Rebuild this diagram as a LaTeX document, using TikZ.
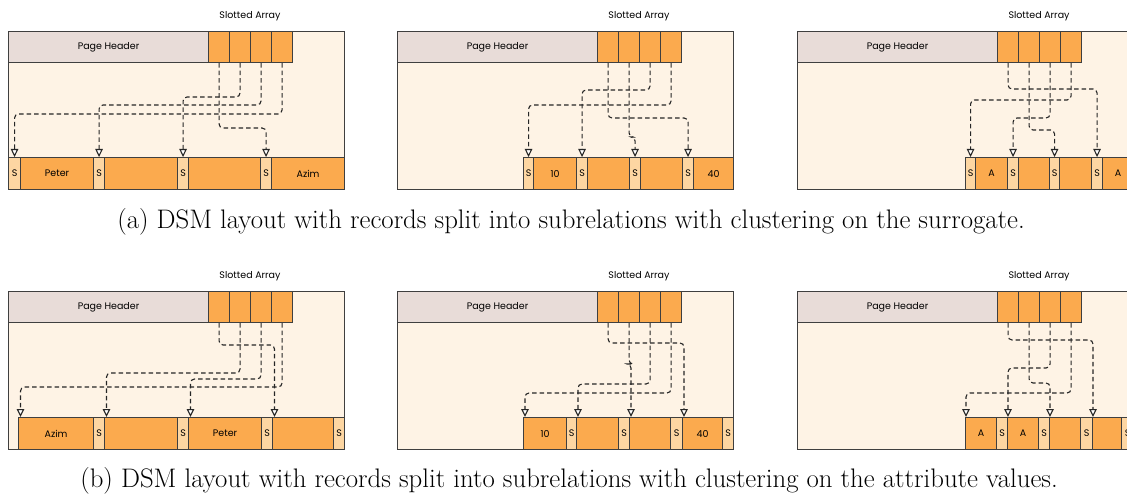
\documentclass[tikz,border=0pt]{standalone}
\usepackage{fontspec}
\newfontfamily\labelfont{Poppins}
\usetikzlibrary{arrows.meta,calc}
\definecolor{pageCream}{HTML}{FEF3E5}
\definecolor{headerGray}{HTML}{E8DCD8}
\definecolor{cellOrange}{HTML}{FBAA4E}
\definecolor{keyPeach}{HTML}{FDD6A2}
\definecolor{edgeGray}{HTML}{3F3F3F}

\tikzset{
  box/.style={draw=edgeGray, line width=1.1pt, anchor=north west, inner sep=0pt,
    font=\labelfont\fontsize{9.5}{11}\selectfont},
  page/.style={box, fill=pageCream, minimum width=336pt, minimum height=158pt},
  header/.style={box, fill=headerGray, minimum width=200pt, minimum height=31pt},
  slot/.style={box, fill=cellOrange, minimum width=21pt, minimum height=31pt},
  keycell/.style={box, fill=keyPeach, minimum height=32pt},
  valcell/.style={box, fill=cellOrange, minimum height=32pt},
  ptr/.style={draw=black!85, line width=1.1pt, dash pattern=on 4.5pt off 3pt,
    rounded corners=4pt, -{Triangle[length=8pt, width=7.5pt, fill=white]}},
  caption/.style={font=\fontsize{26.8}{30}\selectfont}
}

\begin{document}
\begin{tikzpicture}[x=1pt, y=-1pt]
  \useasboundingbox (0,0) rectangle (1127,494);
  \fill[white] (0,0) rectangle (1127,494);
  \clip (0,0) rectangle (1127,494);

  % page frame, header and slotted array of every page
  \foreach \p/\dx/\dy in {a1/0/0, a2/389/0, a3/789/0, b1/0/260, b2/389/260, b3/789/260} {
    \begin{scope}[shift={(\dx,\dy)}]
      \node[page] (\p-page) at (8,31) {};
      \node[header] (\p-hdr) at (8,31) {Page Header};
      \foreach \i in {1,...,4}
        \node[slot] (\p-s\i) at ({208+21*(\i-1)},31) {};
      \node[font=\labelfont\fontsize{9.5}{11}\selectfont] (\p-lbl) at (250,16) {Slotted Array};
    \end{scope}
  }

  % (a) clustered on the surrogate: key cell in front of each value
  \foreach \i/\xs/\xd/\xe/\txt in {1/8/20/93/Peter, 2/93/104/177/{}, 3/177/188/260/{}, 4/260/271/344/Azim} {
    \node[keycell, minimum width={\xd-\xs}] (a1-k\i) at (\xs,157) {S};
    \node[valcell, minimum width={\xe-\xd}] (a1-v\i) at (\xd,157) {\txt};
  }
  \foreach \s/\k/\y in {1/4/128, 2/3/97, 3/2/105, 4/1/114}
    \draw[ptr] (a1-s\s.south) -- (a1-s\s.south |- 0,\y) -- (a1-k\k.north |- 0,\y) -- (a1-k\k.north);

  \begin{scope}[shift={(389,0)}]
    \foreach \i/\xs/\xd/\xe/\txt in {1/134/144/187/10, 2/187/198/240/{}, 3/240/251/293/{}, 4/293/304/344/40} {
      \node[keycell, minimum width={\xd-\xs}] (a2-k\i) at (\xs,157) {S};
      \node[valcell, minimum width={\xe-\xd}] (a2-v\i) at (\xd,157) {\txt};
    }
    \foreach \s/\k/\y in {1/4/118, 2/3/137, 3/2/90, 4/1/105}
      \draw[ptr] (a2-s\s.south) -- (a2-s\s.south |- 0,\y) -- (a2-k\k.north |- 0,\y) -- (a2-k\k.north);
  \end{scope}

  \begin{scope}[shift={(789,0)}]
    \foreach \i/\xs/\xd/\xe/\txt in {1/176/186/218/A, 2/218/229/260/{}, 3/260/270/302/{}, 4/302/313/344/A} {
      \node[keycell, minimum width={\xd-\xs}] (a3-k\i) at (\xs,157) {S};
      \node[valcell, minimum width={\xe-\xd}] (a3-v\i) at (\xd,157) {\txt};
    }
    \foreach \s/\k/\y in {1/4/89, 2/3/130, 3/2/118, 4/1/100}
      \draw[ptr] (a3-s\s.south) -- (a3-s\s.south |- 0,\y) -- (a3-k\k.north |- 0,\y) -- (a3-k\k.north);
  \end{scope}

  % (b) clustered on the values: key cell after each value
  \begin{scope}[shift={(0,260)}]
    \foreach \i/\xd/\xs/\xe/\txt in {1/18/93/104/Azim, 2/104/177/188/{}, 3/188/261/272/Peter, 4/272/333/344/{}} {
      \node[valcell, minimum width={\xs-\xd}] (b1-v\i) at (\xd,157) {\txt};
      \node[keycell, minimum width={\xe-\xs}] (b1-k\i) at (\xs,157) {S};
      \coordinate (b1-t\i) at ([xshift=2.5pt]b1-v\i.north west);
    }
    \foreach \s/\k/\y in {1/4/85, 2/2/113, 3/3/119, 4/1/127}
      \draw[ptr] (b1-s\s.south) -- (b1-s\s.south |- 0,\y) -- (b1-t\k |- 0,\y) -- (b1-t\k);
  \end{scope}

  \begin{scope}[shift={(389,260)}]
    \foreach \i/\xd/\xs/\xe/\txt in {1/134/177/187/10, 2/187/229/240/{}, 3/240/281/293/{}, 4/293/333/344/40} {
      \node[valcell, minimum width={\xs-\xd}] (b2-v\i) at (\xd,157) {\txt};
      \node[keycell, minimum width={\xe-\xs}] (b2-k\i) at (\xs,157) {S};
      \coordinate (b2-t\i) at ([xshift=2pt]b2-v\i.north west);
    }
    \foreach \s/\k/\y in {1/4/83, 2/3/104, 3/2/124, 4/1/133}
      \draw[ptr] (b2-s\s.south) -- (b2-s\s.south |- 0,\y) -- (b2-t\k |- 0,\y) -- (b2-t\k);
  \end{scope}

  \begin{scope}[shift={(789,260)}]
    \foreach \i/\xd/\xs/\xe/\txt in {1/176/207/218/A, 2/218/249/260/A, 3/260/291/303/{}, 4/303/332/344/{}} {
      \node[valcell, minimum width={\xs-\xd}] (b3-v\i) at (\xd,157) {\txt};
      \node[keycell, minimum width={\xe-\xs}] (b3-k\i) at (\xs,157) {S};
      \coordinate (b3-t\i) at ([xshift=1pt]b3-v\i.north west);
    }
    \foreach \s/\k/\y in {1/4/80, 2/3/123, 3/2/108, 4/1/133}
      \draw[ptr] (b3-s\s.south) -- (b3-s\s.south |- 0,\y) -- (b3-t\k |- 0,\y) -- (b3-t\k);
  \end{scope}

  \node[caption] (capA) at (571,222) {(a) DSM layout with records split into subrelations with clustering on the surrogate.};
  \node[caption] (capB) at (569,481) {(b) DSM layout with records split into subrelations with clustering on the attribute values.};
\end{tikzpicture}
\end{document}
